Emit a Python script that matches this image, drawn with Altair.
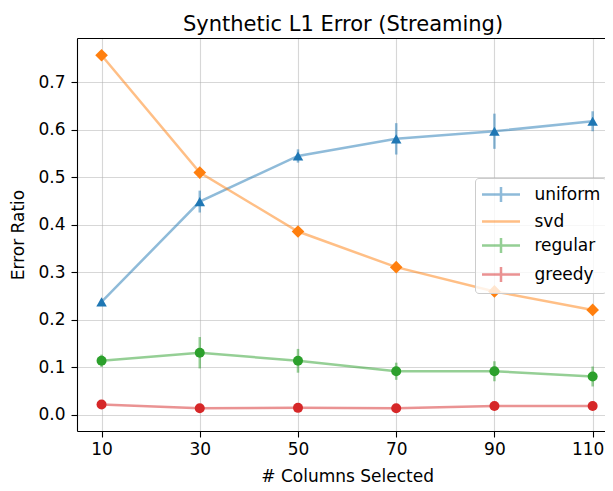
import altair as alt
import pandas as pd

x_vals = [10, 30, 50, 70, 90, 110]
series_names = ["uniform", "svd", "regular", "greedy"]
colors = ["#1f77b4", "#ff7f0e", "#2ca02c", "#d62728"]
markers = ["triangle-up", "diamond", "circle", "circle"]
marker_sizes = [110, 160, 100, 100]

uniform = [0.238, 0.449, 0.545, 0.581, 0.597, 0.618]
uniform_err = [0.005, 0.023, 0.014, 0.033, 0.037, 0.021]
svd = [0.757, 0.510, 0.386, 0.311, 0.260, 0.221]
regular = [0.114, 0.131, 0.114, 0.092, 0.092, 0.081]
regular_err = [0.013, 0.033, 0.025, 0.018, 0.021, 0.021]
greedy = [0.022, 0.014, 0.015, 0.014, 0.019, 0.019]
greedy_err = [0.004, 0.004, 0.004, 0.004, 0.004, 0.004]

values = {"uniform": uniform, "svd": svd, "regular": regular, "greedy": greedy}
errors = {"uniform": uniform_err, "svd": None, "regular": regular_err, "greedy": greedy_err}

rows = []
for s in series_names:
    for i, xv in enumerate(x_vals):
        v = values[s][i]
        e = errors[s][i] if errors[s] is not None else None
        rows.append({
            "series": s, "x": xv, "y": v,
            "lo": v - e if e is not None else None,
            "hi": v + e if e is not None else None,
        })
df = pd.DataFrame(rows)

FONT = "DejaVu Sans"
xscale = alt.Scale(domain=[5, 115], range=[0, 540.2], nice=False, zero=False)
yscale = alt.Scale(domain=[-0.0337, 0.7932], nice=False, zero=False)

bottom_axis = alt.Axis(
    values=x_vals, format="d", title="# Columns Selected", orient="bottom",
    grid=True, gridColor="#b0b0b0", gridOpacity=0.5, gridWidth=1.1,
    tickSize=6, labelPadding=4, titlePadding=11,
    labelOffset={"condition": {"test": "datum.value == 110", "value": -5}, "value": 0},
)
top_axis = alt.Axis(orient="top", labels=False, ticks=False, grid=False,
                    domain=True, title=None, minExtent=0, maxExtent=0)
y_axis = alt.Axis(
    values=[0.0, 0.1, 0.2, 0.3, 0.4, 0.5, 0.6, 0.7], format=".1f",
    title="Error Ratio", grid=True, gridColor="#b0b0b0", gridOpacity=0.5,
    gridWidth=1.1, tickSize=6, labelPadding=6, titlePadding=10,
)

base = alt.Chart(df)
layers = []

# axis-carrying layers (invisible lines)
layers.append(
    base.mark_line(opacity=0).encode(
        x=alt.X("x:Q", scale=xscale, axis=bottom_axis),
        y=alt.Y("y:Q", scale=yscale, axis=y_axis),
        detail="series:N",
    )
)
layers.append(
    base.mark_line(opacity=0).encode(
        x=alt.X("x:Q", scale=xscale, axis=top_axis),
        y=alt.Y("y:Q", scale=yscale, axis=None),
        detail="series:N",
    )
)

for s, c, m, ms in zip(series_names, colors, markers, marker_sizes):
    sub = base.transform_filter(alt.FieldEqualPredicate(field="series", equal=s))
    layers.append(
        sub.mark_line(color=c, opacity=0.5, strokeWidth=2.5).encode(
            x=alt.X("x:Q", scale=xscale, axis=None),
            y=alt.Y("y:Q", scale=yscale, axis=None),
        )
    )
    if errors[s] is not None:
        layers.append(
            sub.mark_rule(color=c, opacity=0.5, strokeWidth=2.5).encode(
                x=alt.X("x:Q", scale=xscale, axis=None),
                y=alt.Y("lo:Q", scale=yscale, axis=None),
                y2="hi:Q",
            )
        )
    layers.append(
        sub.mark_point(shape=m, filled=True, color=c, opacity=1, size=ms).encode(
            x=alt.X("x:Q", scale=xscale, axis=None),
            y=alt.Y("y:Q", scale=yscale, axis=None),
        )
    )

# legend handles: 38px line (with error-bar cross where applicable)
cross = "M-1,0L3,0M1,-0.8L1,0.8"
plain = "M-1,0L3,0"
legend = alt.Legend(
    title=None, orient="none", legendX=398, legendY=140,
    fillColor="rgba(255,255,255,0.8)", strokeColor="#cccccc", cornerRadius=3.5,
    padding=5.5, labelFontSize=17, labelFont=FONT, labelColor="black",
    symbolSize=361, symbolStrokeWidth=2.5, rowPadding=3, labelOffset=32,
)
layers.append(
    base.transform_filter("false").mark_point(filled=False, opacity=0.5, strokeWidth=2.5).encode(
        color=alt.Color("series:N", scale=alt.Scale(domain=series_names, range=colors), legend=legend),
        shape=alt.Shape("series:N", scale=alt.Scale(domain=series_names, range=[cross, plain, cross, cross]), legend=legend),
    )
)

chart = alt.layer(*layers).resolve_axis(x="independent", y="independent").properties(
    width=528, height=393,
    title=alt.TitleParams("Synthetic L1 Error (Streaming)", font=FONT, fontSize=21,
                          fontWeight="normal", color="black", offset=-14,
                          baseline="alphabetic", dx=2),
    autosize=alt.AutoSizeParams(type="none"),
    padding={"left": 69, "top": 30, "right": 0, "bottom": 56},
).configure_view(stroke=None).configure_axis(
    labelFont=FONT, titleFont=FONT, labelFontSize=17, titleFontSize=17,
    titleFontWeight="normal", labelColor="black", titleColor="black",
    tickColor="black", domainColor="black", tickWidth=1.1, domainWidth=1.1,
)

chart.save("out.html", embed_options={"renderer": "svg", "actions": False})
